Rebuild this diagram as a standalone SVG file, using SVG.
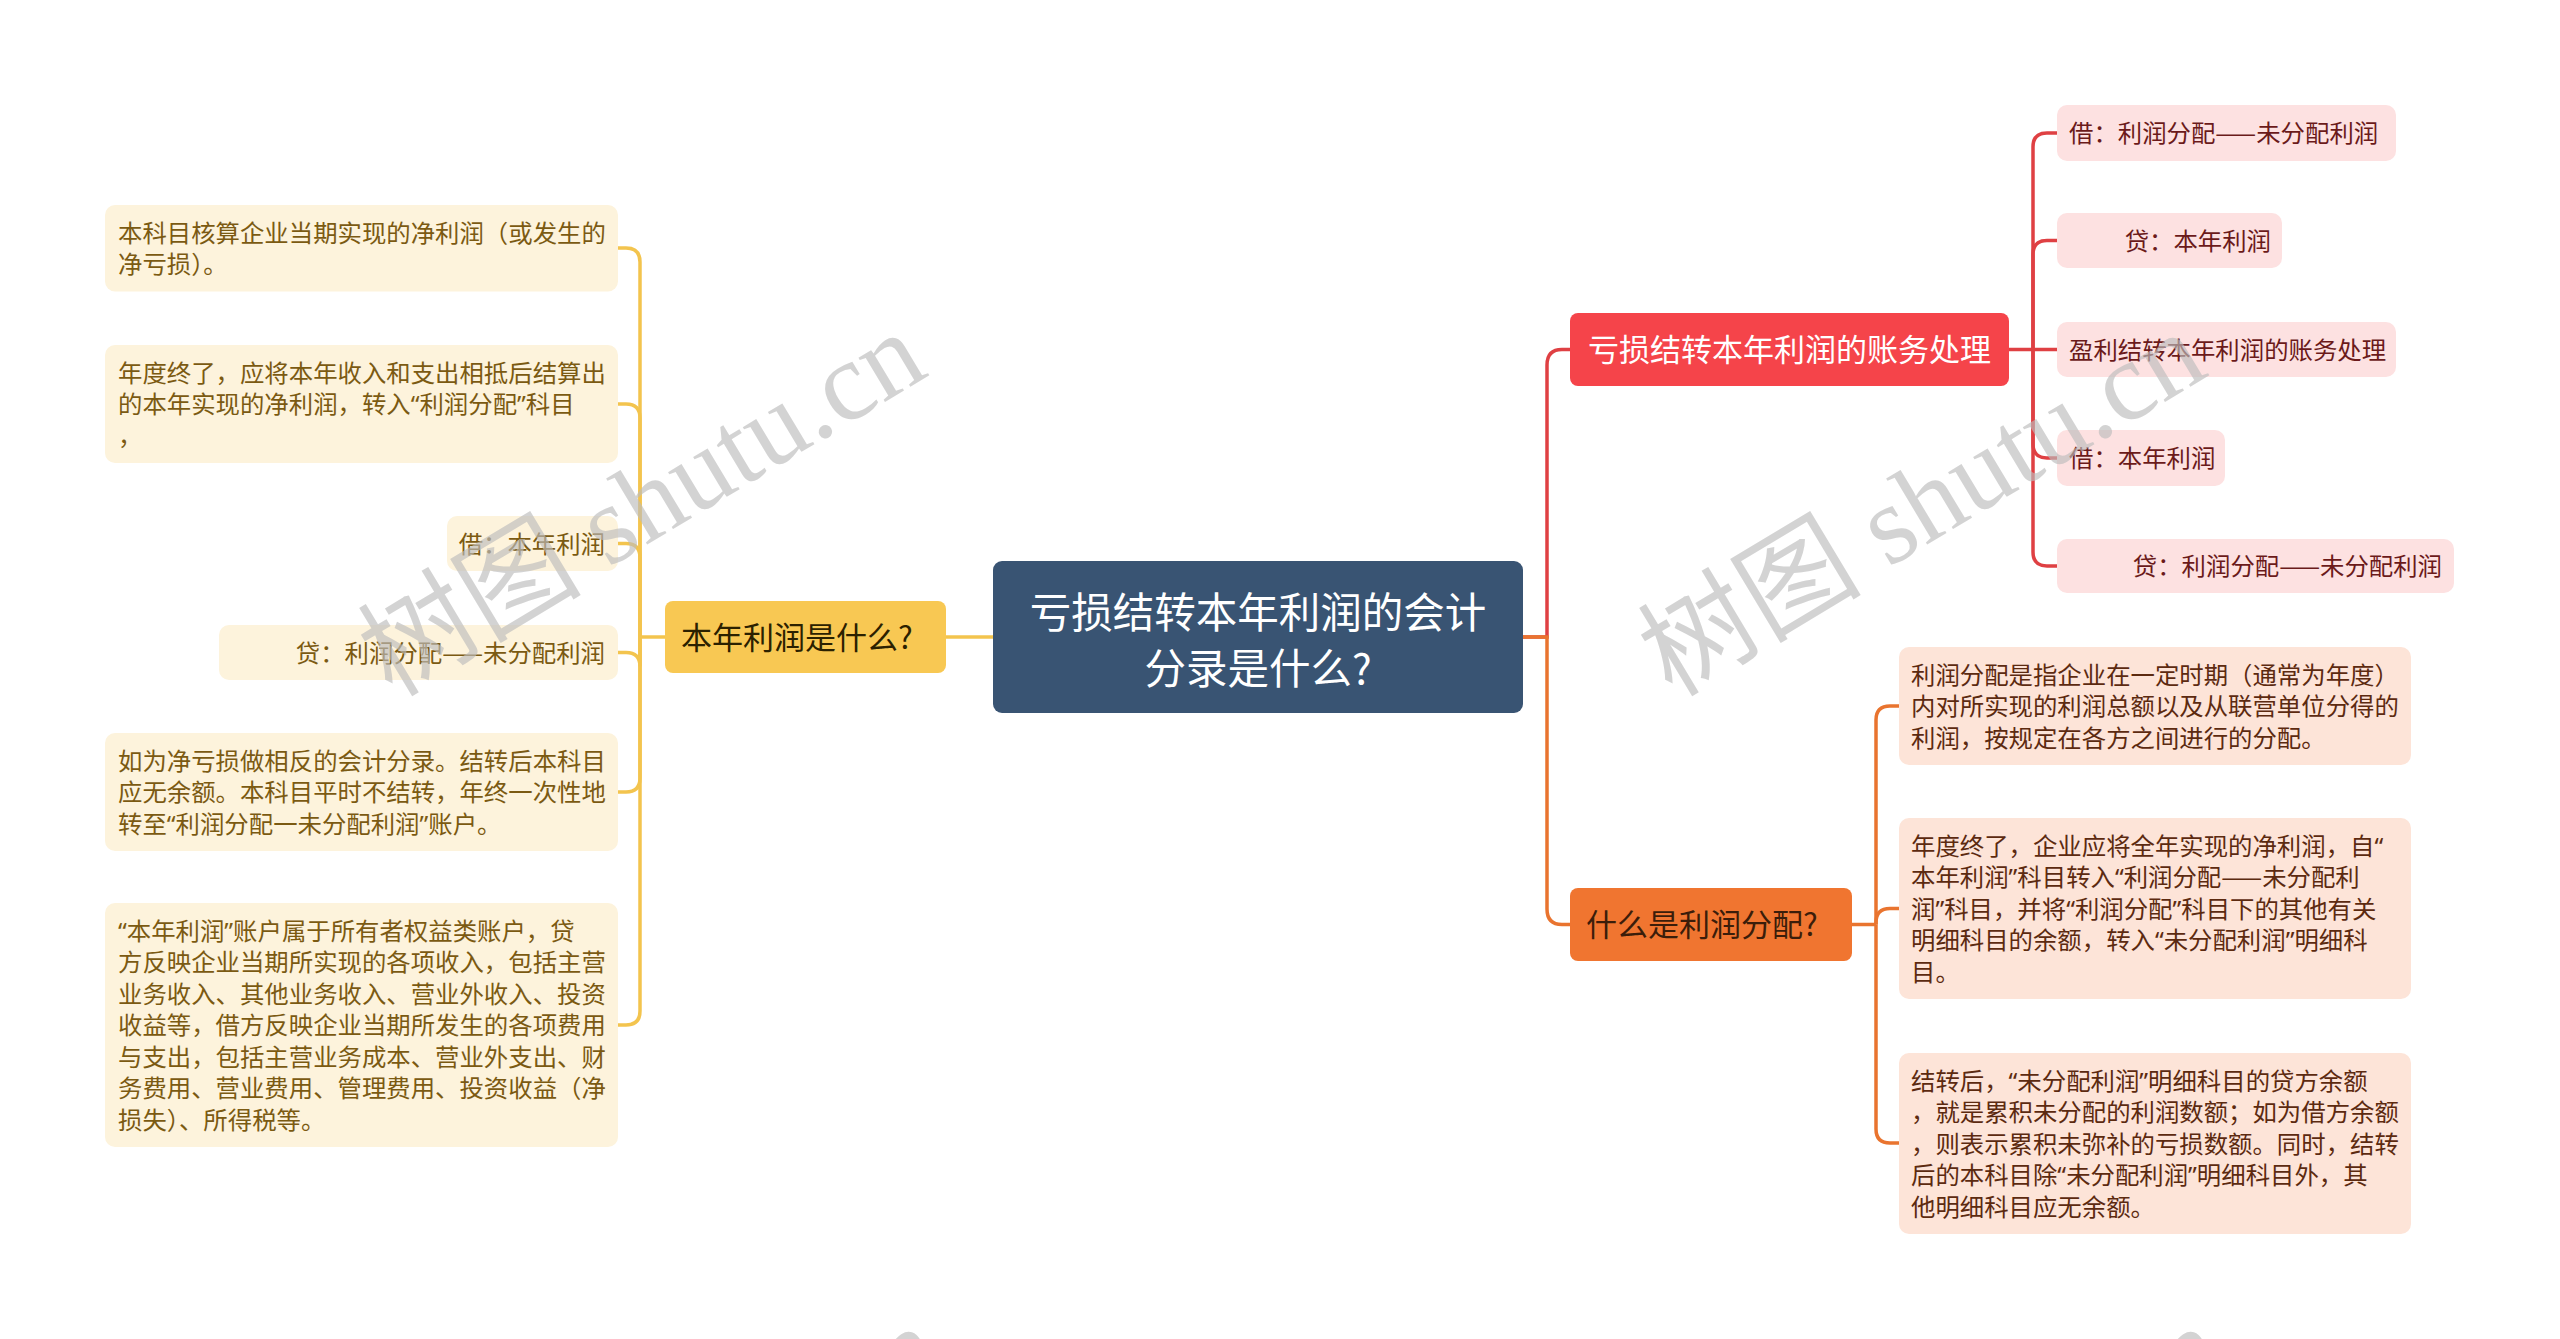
<svg xmlns="http://www.w3.org/2000/svg" width="2560" height="1339" viewBox="0 0 2560 1339">
<style>
text{font-family:"Noto Sans CJK SC","Noto Sans",sans-serif;}
.q{font-family:"Noto Sans",sans-serif;}
.c{font-size:24.4px;}
.l1{font-size:31px;}
.root{font-size:41.5px;fill:#ffffff;}
.yb{fill:#fdf3dc;}
.yt{fill:#7b5a12;}
.rb{fill:#fde1e1;}
.rt{fill:#6b1a1a;}
.ob{fill:#fde4d8;}
.ot{fill:#5c2a10;}
.ylink{fill:none;stroke:#f3c44e;stroke-width:3.5;}
.rlink{fill:none;stroke:#df4043;stroke-width:3.5;}
.olink{fill:none;stroke:#e9742f;stroke-width:3.5;}
.wm{font-family:"Liberation Serif","Noto Sans CJK SC",serif;font-size:112px;fill:#bdbdbd;opacity:0.65;}
</style>
<rect x="0" y="0" width="2560" height="1339" fill="#ffffff"/>

<g id="connectors">
<path class="ylink" d="M993 637 H946"/>
<path class="ylink" d="M665 637 H640"/>
<path class="ylink" d="M640 637 V262 Q640 248 626 248 H618"/>
<path class="ylink" d="M640 637 V418 Q640 404 626 404 H618"/>
<path class="ylink" d="M640 637 V557.5 Q640 543.5 626 543.5 H618"/>
<path class="ylink" d="M640 637 V666.5 Q640 652.5 626 652.5 H618"/>
<path class="ylink" d="M640 637 V778 Q640 792 626 792 H618"/>
<path class="ylink" d="M640 637 V1011 Q640 1025 626 1025 H618"/>
<path class="rlink" d="M1523 637 H1547 V365 Q1547 349.5 1562 349.5 H1570"/>
<path class="olink" d="M1523 637 H1547 V909 Q1547 924.5 1562 924.5 H1570"/>
<path class="rlink" d="M2009 349.5 H2057"/>
<path class="rlink" d="M2033 349.5 V147 Q2033 133 2047 133 H2057"/>
<path class="rlink" d="M2033 349.5 V254.5 Q2033 240.5 2047 240.5 H2057"/>
<path class="rlink" d="M2033 349.5 V444 Q2033 458 2047 458 H2057"/>
<path class="rlink" d="M2033 349.5 V552 Q2033 566 2047 566 H2057"/>
<path class="olink" d="M1852 924.5 H1876"/>
<path class="olink" d="M1876 924.5 V720 Q1876 706 1890 706 H1899"/>
<path class="olink" d="M1876 924.5 V922.5 Q1876 908.5 1890 908.5 H1899"/>
<path class="olink" d="M1876 924.5 V1129 Q1876 1143 1890 1143 H1899"/>
</g>

<g id="root">
<rect x="993" y="561" width="530" height="152" rx="9" fill="#395473"/>
<text class="root" text-anchor="middle"><tspan x="1258" y="627.8">亏损结转本年利润的会计</tspan><tspan x="1258" y="683.8">分录是什么?</tspan></text>
</g>

<g id="n-left">
<rect x="665" y="601" width="281" height="72" rx="8" fill="#f8c853"/>
<text class="l1" x="681" y="648.8" fill="#2b2100">本年利润是什么?</text>
</g>

<g id="n-red">
<rect x="1570" y="313" width="439" height="73" rx="8" fill="#f5444a"/>
<text class="l1" x="1588" y="361.3" fill="#ffffff">亏损结转本年利润的账务处理</text>
</g>

<g id="n-orange">
<rect x="1570" y="888" width="282" height="73" rx="8" fill="#f07530"/>
<text class="l1" x="1586" y="936.3" fill="#3b1d0a">什么是利润分配?</text>
</g>

<g id="l1">
<rect class="yb" x="105" y="205" width="513" height="86.5" rx="10"/>
<text class="c yt"><tspan x="118" y="241.8">本科目核算企业当期实现的净利润（或发生的</tspan><tspan x="118" y="273.3">净亏损）。</tspan></text>
</g>
<g id="l2">
<rect class="yb" x="105" y="345" width="513" height="118" rx="10"/>
<text class="c yt"><tspan x="118" y="381.8">年度终了，应将本年收入和支出相抵后结算出</tspan><tspan x="118" y="413.3">的本年实现的净利润，转入<tspan class="q">“</tspan>利润分配<tspan class="q">”</tspan>科目</tspan><tspan x="118" y="444.8">，</tspan></text>
</g>
<g id="l3">
<rect class="yb" x="447" y="516" width="171" height="55" rx="10"/>
<text class="c yt" x="605" y="552.8" text-anchor="end">借：本年利润</text>
</g>
<g id="l4">
<rect class="yb" x="219" y="625" width="399" height="55" rx="10"/>
<text class="c yt" x="605" y="661.8" text-anchor="end">贷：利润分配——未分配利润</text>
</g>
<g id="l5">
<rect class="yb" x="105" y="733" width="513" height="118" rx="10"/>
<text class="c yt"><tspan x="118" y="769.8">如为净亏损做相反的会计分录。结转后本科目</tspan><tspan x="118" y="801.3">应无余额。本科目平时不结转，年终一次性地</tspan><tspan x="118" y="832.8">转至<tspan class="q">“</tspan>利润分配一未分配利润<tspan class="q">”</tspan>账户。</tspan></text>
</g>
<g id="l6">
<rect class="yb" x="105" y="903" width="513" height="244" rx="10"/>
<text class="c yt"><tspan x="118" y="939.8"><tspan class="q">“</tspan>本年利润<tspan class="q">”</tspan>账户属于所有者权益类账户，贷</tspan><tspan x="118" y="971.3">方反映企业当期所实现的各项收入，包括主营</tspan><tspan x="118" y="1002.8">业务收入、其他业务收入、营业外收入、投资</tspan><tspan x="118" y="1034.3">收益等，借方反映企业当期所发生的各项费用</tspan><tspan x="118" y="1065.8">与支出，包括主营业务成本、营业外支出、财</tspan><tspan x="118" y="1097.3">务费用、营业费用、管理费用、投资收益（净</tspan><tspan x="118" y="1128.8">损失）、所得税等。</tspan></text>
</g>

<g id="r1">
<rect class="rb" x="2057" y="105" width="339" height="56" rx="10"/>
<text class="c rt" x="2069" y="142.3">借：利润分配——未分配利润</text>
</g>
<g id="r2">
<rect class="rb" x="2057" y="213" width="225" height="55" rx="10"/>
<text class="c rt" x="2271" y="249.8" text-anchor="end">贷：本年利润</text>
</g>
<g id="r3">
<rect class="rb" x="2057" y="322" width="339" height="55" rx="10"/>
<text class="c rt" x="2069" y="358.8">盈利结转本年利润的账务处理</text>
</g>
<g id="r4">
<rect class="rb" x="2057" y="430" width="168" height="56" rx="10"/>
<text class="c rt" x="2069" y="467.3">借：本年利润</text>
</g>
<g id="r5">
<rect class="rb" x="2057" y="539" width="397" height="54" rx="10"/>
<text class="c rt" x="2442" y="575.3" text-anchor="end">贷：利润分配——未分配利润</text>
</g>

<g id="o1">
<rect class="ob" x="1899" y="647" width="512" height="118" rx="10"/>
<text class="c ot"><tspan x="1911" y="683.8">利润分配是指企业在一定时期（通常为年度）</tspan><tspan x="1911" y="715.3">内对所实现的利润总额以及从联营单位分得的</tspan><tspan x="1911" y="746.8">利润，按规定在各方之间进行的分配。</tspan></text>
</g>
<g id="o2">
<rect class="ob" x="1899" y="818" width="512" height="181" rx="10"/>
<text class="c ot"><tspan x="1911" y="854.8">年度终了，企业应将全年实现的净利润，自<tspan class="q">“</tspan></tspan><tspan x="1911" y="886.3">本年利润<tspan class="q">”</tspan>科目转入<tspan class="q">“</tspan>利润分配——未分配利</tspan><tspan x="1911" y="917.8">润<tspan class="q">”</tspan>科目，并将<tspan class="q">“</tspan>利润分配<tspan class="q">”</tspan>科目下的其他有关</tspan><tspan x="1911" y="949.3">明细科目的余额，转入<tspan class="q">“</tspan>未分配利润<tspan class="q">”</tspan>明细科</tspan><tspan x="1911" y="980.8">目。</tspan></text>
</g>
<g id="o3">
<rect class="ob" x="1899" y="1053" width="512" height="181" rx="10"/>
<text class="c ot"><tspan x="1911" y="1089.8">结转后，<tspan class="q">“</tspan>未分配利润<tspan class="q">”</tspan>明细科目的贷方余额</tspan><tspan x="1911" y="1121.3">，就是累积未分配的利润数额；如为借方余额</tspan><tspan x="1911" y="1152.8">，则表示累积未弥补的亏损数额。同时，结转</tspan><tspan x="1911" y="1184.3">后的本科目除<tspan class="q">“</tspan>未分配利润<tspan class="q">”</tspan>明细科目外，其</tspan><tspan x="1911" y="1215.8">他明细科目应无余额。</tspan></text>
</g>

<g id="watermarks">
<text class="wm" transform="translate(392 698) rotate(-31)">树图 shutu.cn</text>
<text class="wm" transform="translate(1672 698) rotate(-31)">树图 shutu.cn</text>
<text class="wm" transform="translate(408 1692) rotate(-31)">树图 shutu.cn</text>
<text class="wm" transform="translate(1690 1692) rotate(-31)">树图 shutu.cn</text>
</g>
</svg>
